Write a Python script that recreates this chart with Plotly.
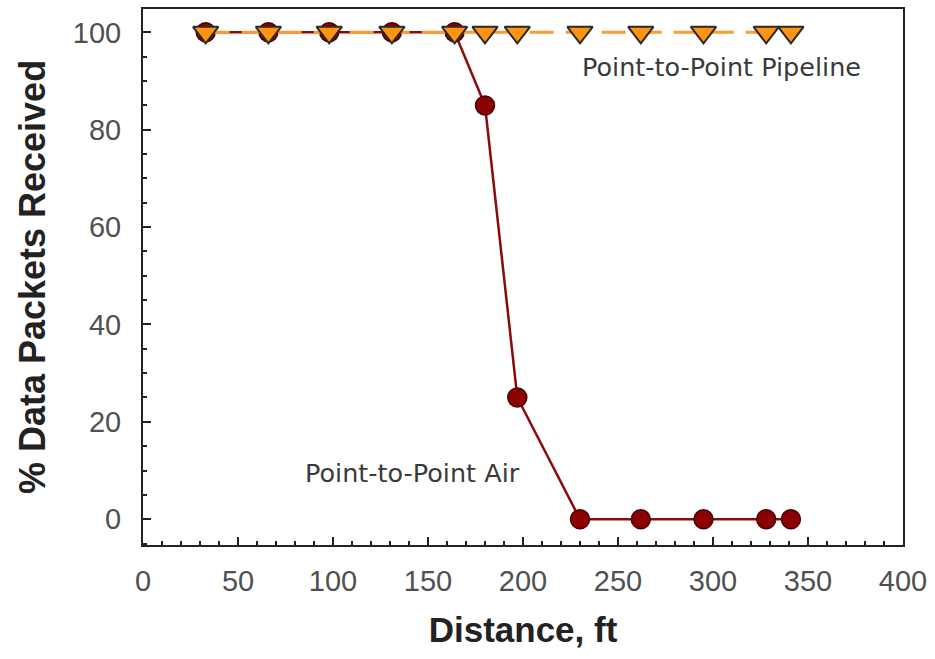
import plotly.graph_objects as go

# Distance (ft) and % of data packets received
distance_ft = [33, 66, 98, 131, 164, 180, 197, 230, 262, 295, 328, 341]
air_pct = [100, 100, 100, 100, 100, 85, 25, 0, 0, 0, 0, 0]
pipeline_pct = [100, 100, 100, 100, 100, 100, 100, 100, 100, 100, 100, 100]

x_ticks = [0, 50, 100, 150, 200, 250, 300, 350, 400]
y_ticks = [0, 20, 40, 60, 80, 100]

SANS = "Liberation Sans, Arial, sans-serif"
WIDE = "DejaVu Sans, Verdana, sans-serif"

fig = go.Figure()

fig.add_trace(go.Scatter(
    x=distance_ft, y=air_pct, mode="lines+markers", name="Point-to-Point Air",
    line=dict(color="#8B0A0A", width=2.5),
    marker=dict(symbol="circle", size=19, color="#8B0000",
                line=dict(color="#4A0000", width=1.5)),
))

fig.add_trace(go.Scatter(
    x=distance_ft, y=pipeline_pct, mode="lines+markers", name="Point-to-Point Pipeline",
    line=dict(color="#FF9A2E", width=3, dash="24px,12px"),
    marker=dict(symbol="triangle-down", size=22, color="#FF9411",
                line=dict(color="#2A2A2A", width=2)),
))

fig.add_annotation(x=379, y=92.9, text="Point-to-Point Pipeline", showarrow=False,
                   xanchor="right", font=dict(size=25.5, color="#3A3A3A", family=WIDE))
fig.add_annotation(x=84, y=9.5, text="Point-to-Point Air", showarrow=False,
                   xanchor="left", font=dict(size=25.5, color="#3A3A3A", family=WIDE))

axis_common = dict(
    showline=True, linecolor="#222222", linewidth=2, mirror=True,
    showgrid=False, zeroline=False,
    ticks="inside", ticklen=8, tickwidth=1.5, tickcolor="#222222",
    tickfont=dict(size=29, color="#505050", family=SANS),
)

fig.update_xaxes(
    range=[0, 400], tickvals=x_ticks, ticktext=[str(v) for v in x_ticks],
    ticklabelstandoff=9,
    minor=dict(dtick=10, ticks="inside", ticklen=4, tickcolor="#222222", showgrid=False),
    title=dict(text="<b>Distance, ft</b>", standoff=22,
               font=dict(size=35, color="#222222", family=SANS)),
    **axis_common,
)
fig.update_yaxes(
    range=[-5.3, 104.8], tickvals=y_ticks, ticktext=[str(v) for v in y_ticks],
    ticklabelstandoff=14,
    minor=dict(dtick=5, tick0=0, ticks="inside", ticklen=4, tickcolor="#222222", showgrid=False),
    title=dict(text="<b>% Data Packets Received</b>", standoff=16,
               font=dict(size=36, color="#222222", family=SANS)),
    **axis_common,
)

fig.update_layout(
    width=935, height=659,
    margin=dict(l=143, r=32, t=7, b=114),
    plot_bgcolor="white", paper_bgcolor="white",
    showlegend=False,
)

fig.write_html("out.html")
